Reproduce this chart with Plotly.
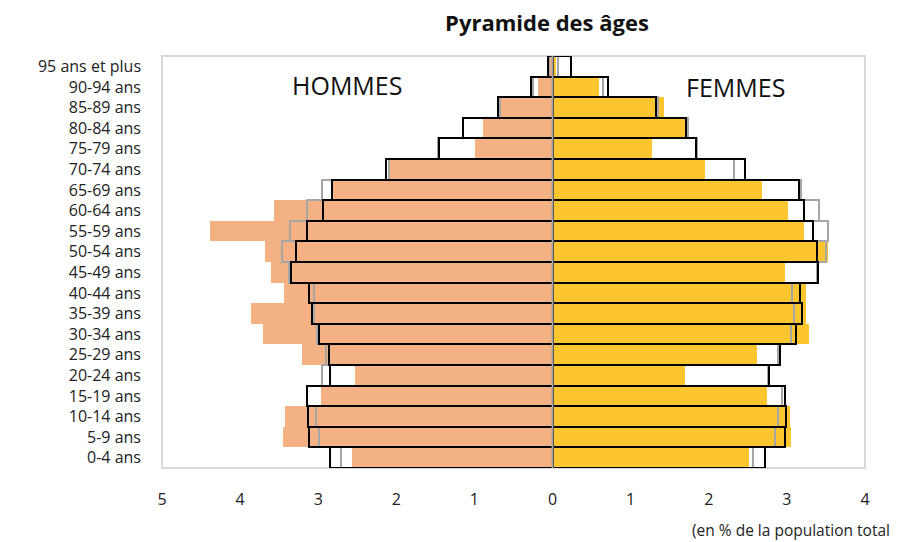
import plotly.graph_objects as go

# Age groups, top to bottom as displayed
ages = ["95 ans et plus", "90-94 ans", "85-89 ans", "80-84 ans", "75-79 ans",
        "70-74 ans", "65-69 ans", "60-64 ans", "55-59 ans", "50-54 ans",
        "45-49 ans", "40-44 ans", "35-39 ans", "30-34 ans", "25-29 ans",
        "20-24 ans", "15-19 ans", "10-14 ans", "5-9 ans", "0-4 ans"]

# Filled bars (% of total population)
hommes = [0.04, 0.19, 0.66, 0.89, 0.99, 2.08, 2.82, 3.57, 4.38, 3.68,
          3.61, 3.44, 3.86, 3.71, 3.21, 2.53, 2.96, 3.43, 3.45, 2.57]
femmes = [0.05, 0.60, 1.43, 1.71, 1.27, 1.95, 2.68, 3.02, 3.22, 3.53,
          2.98, 3.24, 3.25, 3.28, 2.62, 1.69, 2.75, 3.04, 3.05, 2.51]

# Black outlined reference
hommes_ref1 = [0.06, 0.28, 0.70, 1.15, 1.45, 2.13, 2.82, 2.94, 3.14, 3.29,
               3.35, 3.12, 3.08, 2.99, 2.86, 2.85, 3.14, 3.13, 3.12, 2.85]
femmes_ref1 = [0.23, 0.71, 1.33, 1.71, 1.84, 2.46, 3.15, 3.22, 3.33, 3.39,
               3.40, 3.17, 3.19, 3.12, 2.91, 2.77, 2.97, 2.99, 2.98, 2.72]

# Grey outlined reference
hommes_ref2 = [0.05, 0.25, 0.67, 1.15, 1.47, 2.09, 2.95, 3.15, 3.36, 3.46,
               3.38, 3.05, 3.05, 3.02, 2.90, 2.95, 3.14, 3.03, 2.99, 2.71]
femmes_ref2 = [0.07, 0.65, 1.35, 1.74, 1.85, 2.32, 3.18, 3.41, 3.52, 3.50,
               3.38, 3.07, 3.09, 3.05, 2.88, 2.76, 2.94, 2.88, 2.85, 2.57]

tick_vals = [-5, -4, -3, -2, -1, 0, 1, 2, 3, 4]
tick_text = ["5", "4", "3", "2", "1", "0", "1", "2", "3", "4"]

FONT = "Open Sans"
SALMON = "#F4B183"
YELLOW = "#FDC62E"
GREY = "#A6A6A6"

neg = lambda v: [-x for x in v]

fig = go.Figure()
fig.add_trace(go.Bar(y=ages, x=neg(hommes), orientation="h", name="Hommes",
                     marker=dict(color=SALMON, line=dict(width=0))))
fig.add_trace(go.Bar(y=ages, x=femmes, orientation="h", name="Femmes",
                     marker=dict(color=YELLOW, line=dict(width=0))))
for vals in (neg(hommes_ref2), femmes_ref2):
    fig.add_trace(go.Bar(y=ages, x=vals, orientation="h",
                         marker=dict(color="rgba(0,0,0,0)", line=dict(color=GREY, width=2))))
for vals in (neg(hommes_ref1), femmes_ref1):
    fig.add_trace(go.Bar(y=ages, x=vals, orientation="h",
                         marker=dict(color="rgba(0,0,0,0)", line=dict(color="#000000", width=2))))

# page body has an 8px margin, so figure coordinates = screen - 8
L, T, R, B = 154, 48, 857, 460
PW, PH = R - L, B - T

fig.update_layout(
    width=910, height=542,
    margin=dict(l=L, r=910 - R, t=T, b=542 - B),
    paper_bgcolor="white", plot_bgcolor="white",
    barmode="overlay", bargap=0, showlegend=False,
    font=dict(family=FONT, color="#222222", size=15),
    title=dict(text="<b>Pyramide des âges</b>", x=539 / 910, xanchor="center",
               xref="container", y=1 - 15 / 542, yanchor="middle",
               font=dict(family=FONT, size=22, color="#111111")),
    xaxis=dict(range=[-5, 4], tickvals=tick_vals, ticktext=tick_text,
               showgrid=False, zeroline=False, showline=False, ticks="",
               ticklabelstandoff=20, tickfont=dict(size=16, color="#222222")),
    yaxis=dict(categoryorder="array", categoryarray=ages[::-1],
               range=[-0.5, len(ages) - 0.5], showgrid=False, zeroline=False,
               showline=False, ticks="", ticklabelstandoff=20,
               tickfont=dict(size=16, color="#222222")),
    shapes=[
        dict(type="rect", xref="paper", yref="paper", x0=0, x1=1, y0=0, y1=1,
             line=dict(color="#D9D9D9", width=2), layer="below"),
        dict(type="line", xref="x", yref="paper", x0=0, x1=0, y0=0, y1=1,
             line=dict(color="#A0A0A0", width=2), layer="above"),
    ],
    annotations=[
        dict(text="HOMMES", xref="paper", yref="paper", x=(339 - L) / PW,
             y=(B - 77) / PH, showarrow=False, xanchor="center", yanchor="middle",
             font=dict(family=FONT, size=25, color="#111111")),
        dict(text="FEMMES", xref="paper", yref="paper", x=(727 - L) / PW,
             y=(B - 79) / PH, showarrow=False, xanchor="center", yanchor="middle",
             font=dict(family=FONT, size=25, color="#111111")),
        dict(text="(en % de la population total", xref="paper", yref="paper",
             x=(682 - L) / PW, y=-(522 - B) / PH, showarrow=False,
             xanchor="left", yanchor="middle",
             font=dict(family=FONT, size=15.5, color="#222222")),
    ],
)

fig.write_html("out.html")
